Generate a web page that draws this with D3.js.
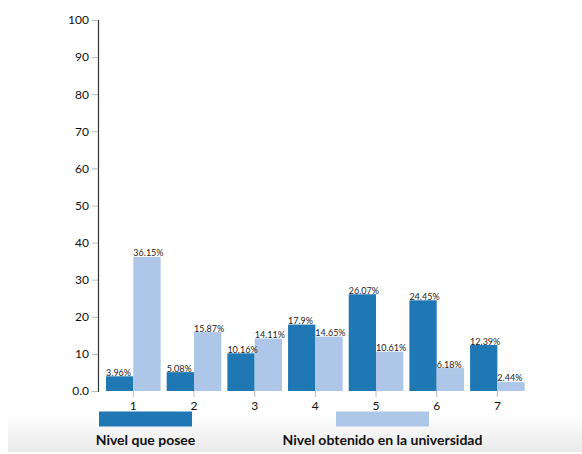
<!DOCTYPE html>
<html>
<head>
<meta charset="utf-8">
<script src="https://cdn.jsdelivr.net/npm/d3@7"></script>
<style>
html,body{margin:0;padding:0;background:#fff;}
svg{display:block;font-family:Lato,"Open Sans",sans-serif;}
</style>
</head>
<body>
<svg id="chart" width="582" height="454"></svg>
<script>
const categories = ["1","2","3","4","5","6","7"];
const seriesNames = ["Nivel que posee","Nivel obtenido en la universidad"];
const posee = [3.96, 5.08, 10.16, 17.9, 26.07, 24.45, 12.39];
const obtenido = [36.15, 15.87, 14.11, 14.65, 10.61, 6.18, 2.44];
const yTicks = [0,10,20,30,40,50,60,70,80,90,100];
const yTickLabels = ["0.0","10","20","30","40","50","60","70","80","90","100"];
const colors = ["#1f77b4","#aec7e8"];

const svg = d3.select("#chart");

// bottom shaded area
const defs = svg.append("defs");
const grad = defs.append("linearGradient").attr("id","bg").attr("x1",0).attr("y1",0).attr("x2",0).attr("y2",1);
grad.append("stop").attr("offset","0%").attr("stop-color","#ffffff");
grad.append("stop").attr("offset","100%").attr("stop-color","#e9e9e9");
svg.append("rect").attr("x",8).attr("y",414).attr("width",574).attr("height",38).attr("fill","url(#bg)");

const data = categories.map((c,i)=>({cat:c, values:[posee[i], obtenido[i]]}));

const x0 = d3.scaleBand().domain(categories).range([103,527.7]).paddingInner(0.1).paddingOuter(0.05);
const x1 = d3.scaleBand().domain([0,1]).range([0,x0.bandwidth()]);
const y = d3.scaleLinear().domain([0,100]).range([391,20]);

// y axis
const yAxis = svg.append("g").attr("transform","translate(98,0)")
  .call(d3.axisLeft(y).tickValues(yTicks).tickFormat((d,i)=>yTickLabels[i]).tickSize(6).tickPadding(3));
yAxis.select(".domain").attr("stroke","#333").attr("stroke-width",1.2);
yAxis.selectAll(".tick line").attr("stroke","#bbb");
yAxis.selectAll(".tick text").attr("font-size",12).attr("fill","#111").attr("font-family","Lato,sans-serif");

// x axis
const xAxis = svg.append("g").attr("transform","translate(0,391)")
  .call(d3.axisBottom(x0).tickSize(6).tickPadding(4));
xAxis.select(".domain").remove();
xAxis.selectAll(".tick line").attr("stroke","#bbb");
xAxis.selectAll(".tick text").attr("font-size",12).attr("fill","#111").attr("font-family","Lato,sans-serif");

// bars
const groups = svg.append("g").selectAll("g").data(data).join("g")
  .attr("transform",d=>`translate(${x0(d.cat)},0)`);
groups.selectAll("rect").data(d=>d.values.map((v,j)=>({v,j}))).join("rect")
  .attr("x",d=>x1(d.j)).attr("y",d=>y(d.v))
  .attr("width",x1.bandwidth()).attr("height",d=>y(0)-y(d.v))
  .attr("fill",d=>colors[d.j]);
groups.selectAll("text").data(d=>d.values.map((v,j)=>({v,j}))).join("text")
  .attr("x",d=>x1(d.j)).attr("y",d=>y(d.v)-0.5)
  .attr("font-size",9).attr("fill","#222").attr("font-family","Lato,sans-serif")
  .text(d=>d.v+"%");

// legend
const legendCenters = [145.5, 382.5];
const lg = svg.append("g").selectAll("g").data(seriesNames).join("g");
lg.append("rect").attr("x",(d,i)=>legendCenters[i]-46.5).attr("y",411.5).attr("width",93).attr("height",15)
  .attr("fill",(d,i)=>colors[i]);
lg.append("text").attr("x",(d,i)=>legendCenters[i]).attr("y",445).attr("text-anchor","middle")
  .attr("font-size",14).attr("font-weight","bold").attr("fill","#111").attr("font-family","Lato,sans-serif")
  .text(d=>d);
</script>
</body>
</html>
